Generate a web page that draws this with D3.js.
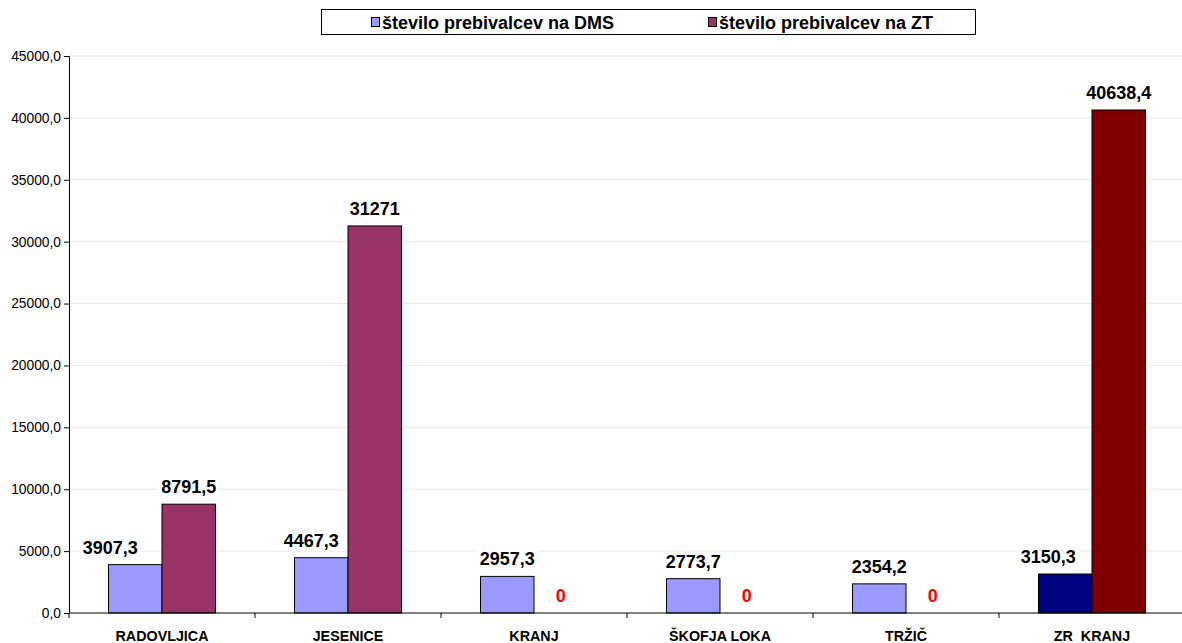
<!DOCTYPE html>
<html>
<head>
<meta charset="utf-8">
<script src="https://cdn.jsdelivr.net/npm/d3@7"></script>
<style>
  body { margin: 0; background: #fff; }
  svg { display: block; font-family: Arial, "Liberation Sans", sans-serif; }
</style>
</head>
<body>
<div id="chart"></div>
<script>
// === Data ===
const categories = ["RADOVLJICA", "JESENICE", "KRANJ", "ŠKOFJA LOKA", "TRŽIČ", "ZR  KRANJ"];
const dmsValues = [3907.3, 4467.3, 2957.3, 2773.7, 2354.2, 3150.3];
const ztValues = [8791.5, 31271, 0, 0, 0, 40638.4];
const dmsLabels = ["3907,3", "4467,3", "2957,3", "2773,7", "2354,2", "3150,3"];
const ztLabels = ["8791,5", "31271", "0", "0", "0", "40638,4"];
const yTicks = [0, 5000, 10000, 15000, 20000, 25000, 30000, 35000, 40000, 45000];
const seriesNames = ["število prebivalcev na DMS", "število prebivalcev na ZT"];

// label nudges (Excel moves some labels aside so they don't hit the tall bar)
const dmsLabelNudge = [-25, -10, 0, 0, 0, -17];

const W = 1182, H = 643;
const m = {top: 56, left: 69, right: -3, bottom: 30};

const svg = d3.select("#chart").append("svg")
  .attr("width", W).attr("height", H);

const x = d3.scaleBand()
  .domain(categories)
  .range([m.left, W - m.right]);

const xs = d3.scaleBand()
  .domain(["dms", "zt"])
  .range([0, x.bandwidth()])
  .paddingOuter(0.738);

const y = d3.scaleLinear()
  .domain([0, 45000])
  .range([H - m.bottom, m.top]);

const fmt = d3.formatLocale({decimal: ",", thousands: "", grouping: [3], currency: ["", ""]}).format(".1f");

// gridlines
svg.append("g")
  .selectAll("line")
  .data(yTicks.filter(d => d > 0))
  .join("line")
  .attr("x1", m.left).attr("x2", W)
  .attr("y1", d => y(d)).attr("y2", d => y(d))
  .attr("stroke", "#e6e6e6").attr("stroke-width", 1);

// y axis
const yAxis = svg.append("g")
  .attr("transform", `translate(${m.left},0)`)
  .call(d3.axisLeft(y).tickValues(yTicks).tickFormat(fmt).tickSize(5).tickPadding(3));
yAxis.selectAll("text").attr("font-size", 13.8).attr("font-family", "Arial, 'Liberation Sans', sans-serif").attr("fill", "#000");
yAxis.select(".domain").attr("stroke", "#000");

// bars
const colDms = (d, i) => i === 5 ? "#000080" : "#9999ff";
const colZt = (d, i) => i === 5 ? "#800000" : "#993366";

const bars = svg.append("g");
bars.selectAll(".dms")
  .data(dmsValues)
  .join("rect")
  .attr("class", "dms")
  .attr("x", (d, i) => x(categories[i]) + xs("dms"))
  .attr("y", d => y(d))
  .attr("width", xs.bandwidth())
  .attr("height", d => y(0) - y(d))
  .attr("fill", colDms)
  .attr("stroke", "#000").attr("stroke-width", 1);

bars.selectAll(".zt")
  .data(ztValues)
  .join("rect")
  .attr("class", "zt")
  .attr("x", (d, i) => x(categories[i]) + xs("zt"))
  .attr("y", d => y(d))
  .attr("width", xs.bandwidth())
  .attr("height", d => y(0) - y(d))
  .attr("fill", colZt)
  .attr("stroke", d => d > 0 ? "#000" : "none").attr("stroke-width", 1);

// x axis
const xAxis = svg.append("g")
  .attr("transform", `translate(0,${y(0)})`);
xAxis.append("line")
  .attr("x1", m.left).attr("x2", W)
  .attr("stroke", "#000");
xAxis.selectAll(".tk")
  .data(categories)
  .join("line")
  .attr("class", "tk")
  .attr("x1", d => x(d)).attr("x2", d => x(d))
  .attr("y1", 0).attr("y2", 5)
  .attr("stroke", "#000");
xAxis.selectAll(".cat")
  .data(categories)
  .join("text")
  .attr("class", "cat")
  .attr("x", d => x(d) + x.bandwidth() / 2)
  .attr("y", 27.5)
  .attr("text-anchor", "middle")
  .attr("font-size", 14.3)
  .attr("font-weight", "bold")
  .attr("xml:space", "preserve")
  .style("white-space", "pre")
  .text(d => d);

// value labels with white backgrounds
function addLabel(g, cx, base, txt, color) {
  const t = g.append("text")
    .attr("x", cx).attr("y", base)
    .attr("text-anchor", "middle")
    .attr("font-size", 18)
    .attr("font-weight", "bold")
    .attr("fill", color)
    .text(txt);
  const bb = t.node().getBBox();
  g.insert("rect", function() { return t.node(); })
    .attr("x", bb.x - 4).attr("y", bb.y)
    .attr("width", bb.width + 8).attr("height", bb.height)
    .attr("fill", "#fff");
}

const labels = svg.append("g");
dmsValues.forEach((d, i) => {
  const cx = x(categories[i]) + xs("dms") + xs.bandwidth() / 2 + dmsLabelNudge[i];
  addLabel(labels, cx, y(d) - 11, dmsLabels[i], "#000");
});
ztValues.forEach((d, i) => {
  const cx = x(categories[i]) + xs("zt") + xs.bandwidth() / 2;
  addLabel(labels, cx, y(d) - 11, ztLabels[i], d === 0 ? "#ff0000" : "#000");
});

// legend
const lg = svg.append("g");
lg.append("rect")
  .attr("x", 321.5).attr("y", 9.5)
  .attr("width", 654).attr("height", 25)
  .attr("fill", "#fff").attr("stroke", "#000");
const legendX = [371, 708];
const legendCol = ["#9999ff", "#993366"];
seriesNames.forEach((s, i) => {
  lg.append("rect")
    .attr("x", legendX[i] + 0.5).attr("y", 17.5)
    .attr("width", 8).attr("height", 9)
    .attr("fill", legendCol[i]).attr("stroke", "#000");
  lg.append("text")
    .attr("x", legendX[i] + 11).attr("y", 28.5)
    .attr("font-size", 18)
    .attr("font-weight", "bold")
    .text(s);
});
</script>
</body>
</html>
